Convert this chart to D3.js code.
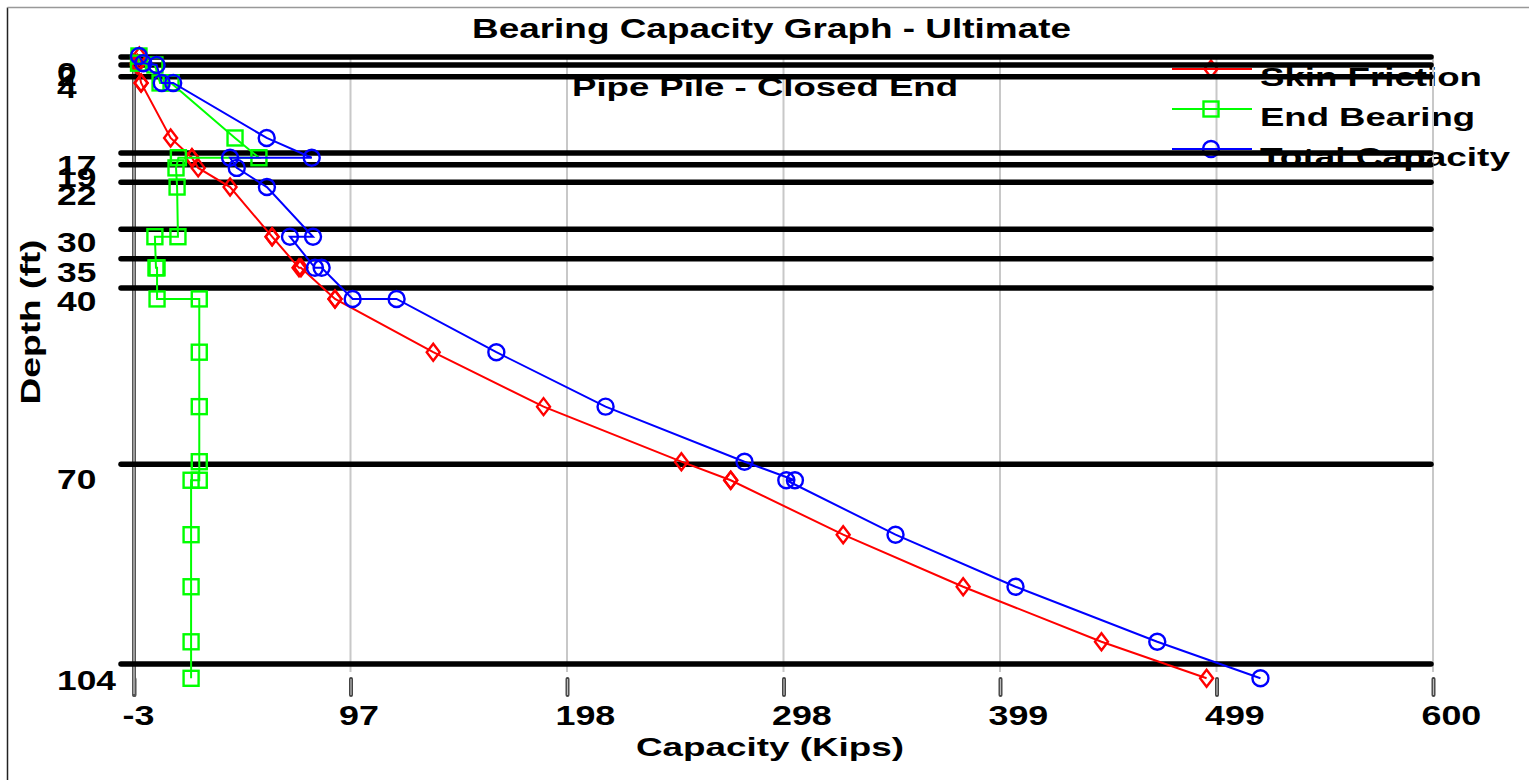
<!DOCTYPE html>
<html>
<head>
<meta charset="utf-8">
<script src="https://cdn.jsdelivr.net/npm/d3@7"></script>
<style>
  body { margin: 0; background: #fff; }
  text { font-family: "Liberation Sans", Arial, sans-serif; font-weight: bold; fill: #000; }
</style>
</head>
<body>
<div id="container"></div>
<script>
/* DATA */
const depth = [0, 1.2, 1.5, 4.5, 4.5, 13.7, 17, 17, 18.7, 21.9, 30.2, 30.2, 35.4, 35.4, 40.6, 40.6, 49.5, 58.6, 67.8, 70.9, 70.9, 80, 88.7, 97.9, 104];
const skinFriction = [-0.5, -1.5, -1.5, 0.3, 0.3, 14.0, 23.9, 23.9, 26.8, 41.6, 61.1, 61.1, 73.6, 74.5, 90.3, 90.3, 135.9, 187.1, 251.1, 274.0, 274.0, 326.2, 381.9, 446.1, 494.9];
const endBearing = [-0.7, -0.9, 6.7, 9.1, 14.2, 43.9, 55.0, 17.6, 16.5, 17.0, 17.4, 6.7, 7.2, 7.7, 7.7, 27.3, 27.3, 27.3, 27.3, 27.3, 23.5, 23.5, 23.5, 23.5, 23.5];
const totalCapacity = [-0.7, 1.3, 7.5, 9.9, 15.2, 58.6, 79.5, 41.6, 44.7, 58.7, 80.1, 69.4, 81.0, 84.1, 98.5, 118.9, 165.2, 215.9, 280.4, 303.8, 299.8, 350.5, 406.2, 472.0, 519.9];

const layerDepths = [0, 2, 4, 17, 19, 22, 30, 35, 40, 70, 104];
const xTicks = [-3, 97.5, 198, 298.5, 399, 499.5, 600];

const seriesNames = ["Skin Friction", "End Bearing", "Total Capacity"];
const seriesColors = ["#ff0000", "#00ff00", "#0000ff"];
const seriesValues = [skinFriction, endBearing, totalCapacity];
const seriesSymbols = ["diamond", "square", "circle"];

/* CONSTANTS */
const width = 1529, height = 780;
const plotTop = 57, plotLeft = 134, plotRight = 1433;

// SCALES
const x = d3.scaleLinear().domain([-3, 600]).range([plotLeft, plotRight]);
const y = d3.scaleLinear().domain([0, 104]).range([56, 678.3]);        // data points
const yLayer = d3.scaleLinear().domain([2, 104]).range([64.9, 664]);   // layer boundary lines
const yLabel = d3.scaleLinear().domain([22, 104]).range([195, 680]);   // depth labels

const svg = d3.select("#container").append("svg")
  .attr("width", width)
  .attr("height", height);

// stretch text horizontally (the original font is wide)
function stretch(sel, k) {
  sel.each(function () {
    const w = this.getComputedTextLength();
    d3.select(this).attr("textLength", w * k).attr("lengthAdjust", "spacingAndGlyphs");
  });
}

function drawSymbol(g, type, color) {
  if (type === "diamond") {
    g.append("path").attr("d", "M0,-8.5L6.5,0L0,8.5L-6.5,0Z");
  } else if (type === "square") {
    g.append("rect").attr("x", -7.5).attr("y", -7.5).attr("width", 15).attr("height", 15);
  } else {
    g.append("circle").attr("r", 8);
  }
  g.selectAll("path,rect,circle")
    .attr("fill", "none")
    .attr("stroke", color)
    .attr("stroke-width", 2.4);
}

// OUTER FRAME
svg.append("line").attr("x1", 7.5).attr("y1", 7.5).attr("x2", 7.5).attr("y2", height)
  .attr("stroke", "#222").attr("stroke-width", 1.5);
svg.append("line").attr("x1", 7.5).attr("y1", 7.5).attr("x2", width).attr("y2", 7.5)
  .attr("stroke", "#999").attr("stroke-width", 1.5);

// TITLES
svg.append("text").attr("x", 771.5).attr("y", 38).attr("text-anchor", "middle")
  .style("font-size", "28px").attr("textLength", 599).attr("lengthAdjust", "spacingAndGlyphs")
  .text("Bearing Capacity Graph - Ultimate");
svg.append("text").attr("x", 765).attr("y", 96).attr("text-anchor", "middle")
  .style("font-size", "26px").attr("textLength", 386).attr("lengthAdjust", "spacingAndGlyphs")
  .text("Pipe Pile - Closed End");

svg.append("text").attr("x", 770).attr("y", 756).attr("text-anchor", "middle")
  .style("font-size", "26px").attr("textLength", 268).attr("lengthAdjust", "spacingAndGlyphs")
  .text("Capacity (Kips)");
svg.append("text").attr("transform", "translate(40,322) rotate(-90)").attr("text-anchor", "middle")
  .style("font-size", "27px").attr("textLength", 165).attr("lengthAdjust", "spacingAndGlyphs")
  .text("Depth (ft)");

// LEGEND TEXT
const legendRows = [69, 109, 149];
const legendLen = [222, 215, 250];
seriesNames.forEach((name, i) => {
  svg.append("text").attr("x", 1260).attr("y", legendRows[i] + 17)
    .style("font-size", "26px").attr("textLength", legendLen[i]).attr("lengthAdjust", "spacingAndGlyphs")
    .text(name);
});

// GRID
svg.append("line").attr("x1", plotLeft).attr("x2", plotRight).attr("y1", 55.5).attr("y2", 55.5)
  .attr("stroke", "#bbb").attr("stroke-width", 1.5);
svg.append("g").selectAll("line").data(xTicks.slice(1)).join("line")
  .attr("x1", d => x(d)).attr("x2", d => x(d))
  .attr("y1", 55).attr("y2", 672)
  .attr("stroke", "#c8c8c8").attr("stroke-width", 2);

// X AXIS
const xAxis = d3.axisBottom(x).tickValues(xTicks).tickFormat(d => Math.floor(d)).tickSize(16);
const xAxisGroup = svg.append("g").attr("transform", "translate(0,679)").call(xAxis);
xAxisGroup.select(".domain").remove();
xAxisGroup.selectAll(".tick line").attr("stroke", "#444").attr("stroke-width", 4).attr("stroke-linecap", "round");
xAxisGroup.selectAll(".tick").append("line").attr("y2", 16).attr("stroke", "#bbb").attr("stroke-width", 1.2);
xAxisGroup.selectAll(".tick text")
  .attr("x", -12).attr("y", 46).attr("dy", null)
  .attr("text-anchor", "start")
  .attr("font-family", null)
  .style("font-size", "28px")
  .call(stretch, 1.28);

// Y AXIS LINE
svg.append("line").attr("x1", x(-3)).attr("x2", x(-3)).attr("y1", 55).attr("y2", 695)
  .attr("stroke", "#555").attr("stroke-width", 4).attr("stroke-linecap", "round");
svg.append("line").attr("x1", x(-3)).attr("x2", x(-3)).attr("y1", 56).attr("y2", 694)
  .attr("stroke", "#ccc").attr("stroke-width", 1.2);

// Y LABELS
const yAxis = d3.axisLeft(yLabel).tickValues(layerDepths).tickSize(0);
const yAxisGroup = svg.append("g").attr("transform", "translate(57,0)").call(yAxis);
yAxisGroup.select(".domain").remove();
yAxisGroup.selectAll(".tick").attr("transform", d => `translate(0,${Math.max(yLabel(d), 72)})`);
yAxisGroup.selectAll(".tick text")
  .attr("x", 0).attr("dy", "0.36em")
  .attr("text-anchor", "start")
  .style("font-size", "27px")
  .call(stretch, 1.31);

// LEGEND SYMBOLS
seriesNames.forEach((name, i) => {
  svg.append("line").attr("x1", 1172).attr("x2", 1252)
    .attr("y1", legendRows[i]).attr("y2", legendRows[i])
    .attr("stroke", seriesColors[i]).attr("stroke-width", 2);
  const g = svg.append("g").attr("transform", `translate(1211,${legendRows[i]})`);
  drawSymbol(g, seriesSymbols[i], seriesColors[i]);
});

// LAYER LINES
svg.append("g").selectAll("line").data(layerDepths).join("line")
  .attr("x1", 121).attr("x2", 1431)
  .attr("y1", d => Math.max(yLayer(d), plotTop)).attr("y2", d => Math.max(yLayer(d), plotTop))
  .attr("stroke", "#000").attr("stroke-width", 5.5).attr("stroke-linecap", "round");

// SERIES
const line = d3.line().x(d => x(d.v)).y(d => y(d.depth));
seriesValues.forEach((vals, i) => {
  const pts = vals.map((v, j) => ({ v: v, depth: depth[j] }));
  svg.append("path").datum(pts)
    .attr("d", line)
    .attr("fill", "none")
    .attr("stroke", seriesColors[i])
    .attr("stroke-width", 2);
  pts.forEach(p => {
    const g = svg.append("g").attr("transform", `translate(${x(p.v)},${y(p.depth)})`);
    drawSymbol(g, seriesSymbols[i], seriesColors[i]);
  });
});
</script>
</body>
</html>
